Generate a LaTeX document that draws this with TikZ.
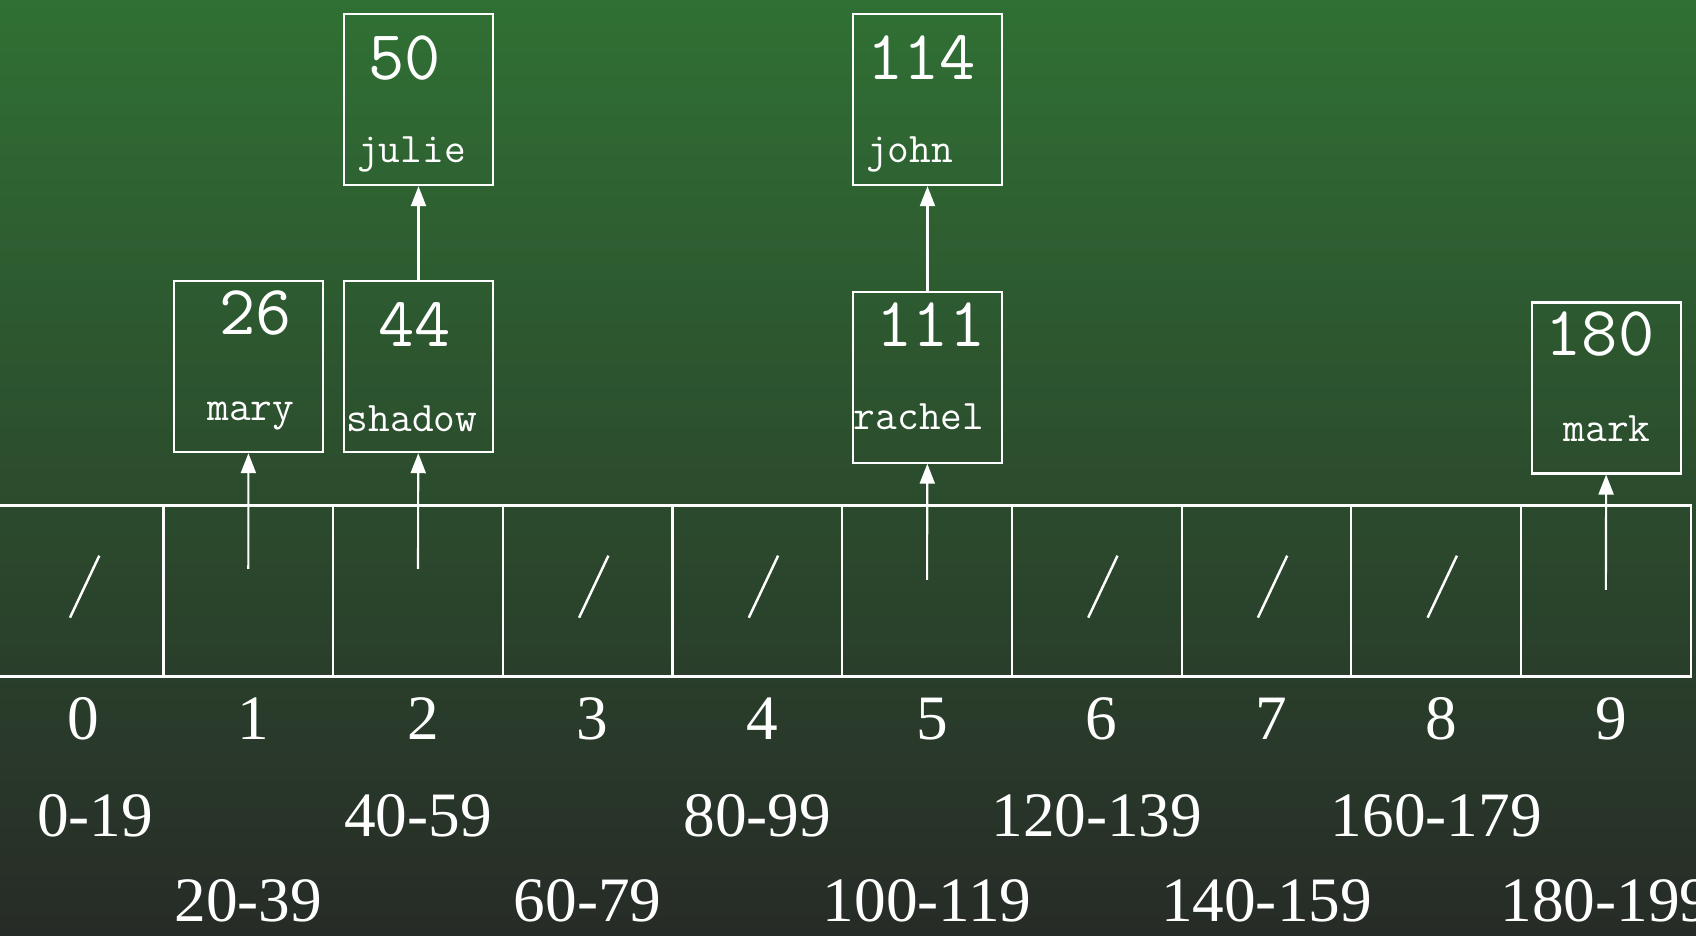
\documentclass[tikz,border=0pt]{standalone}
\usepackage{fontspec}
\setmainfont{Liberation Serif}
\usepackage{tikz}
\usetikzlibrary{positioning, calc, arrows.meta}
\definecolor{slidetop}{RGB}{48,112,52}
\definecolor{slidebot}{RGB}{39,43,39}

\begin{document}
\begin{tikzpicture}[line width=0.6pt, white,
    cell/.style={draw=white, rectangle, minimum width=1.697cm, minimum height=1.71cm, inner sep=0pt},
    rec/.style={draw=white, rectangle, minimum width=1.495cm, minimum height=1.71cm, inner sep=0pt},
    key/.style={font=\ttfamily\fontsize{20}{22}\selectfont, anchor=base, inner sep=0pt},
    who/.style={font=\ttfamily\fontsize{12}{14}\selectfont, anchor=base, inner sep=0pt},
    idx/.style={font=\fontsize{18}{20}\selectfont, anchor=base, inner sep=0pt},
    ptr/.style={-{Triangle[length=2mm, width=1.5mm]}}]

    % Slide background
    \useasboundingbox (0,0) rectangle (16.96,9.36);
    \shade[top color=slidetop, bottom color=slidebot] (0,0) rectangle (16.96,9.36);

    % Bucket array, index and key range under each slot
    \foreach \i/\rng/\dy/\dx in {0/0-19/0.99/0.164, 1/20-39/0.14/0, 2/40-59/0.99/0,
                                 3/60-79/0.14/0, 4/80-99/0.99/0, 5/100-119/0.14/0,
                                 6/120-139/0.99/0, 7/140-159/0.14/0, 8/160-179/0.99/0,
                                 9/180-199/0.14/0} {
        \node[cell] (c\i) at ({0.786+1.697*\i},3.45) {};
        \node[idx] (n\i) at ({0.836+1.697*\i},1.96) {\i};
        \node[idx] (r\i) at ({0.786+1.697*\i+\dx},\dy) {\rng};
    }

    % Empty slots are marked with a slash
    \foreach \i in {0,3,4,6,7,8}
        \draw[line width=0.7pt] ($(c\i.center)+(-0.086,-0.267)$) -- ($(c\i.center)+(0.207,0.353)$);

    % Records hanging off bucket 1
    \node[rec] (mary) at (2.485,5.693) {};
    \node[key] (k26) at (2.555,6.01) {26};
    \node[who] (nmary) at (2.51,5.15) {mary};

    % Records hanging off bucket 2
    \node[rec] (shadow) at (4.185,5.693) {};
    \node[key] (k44) at (4.15,5.89) {44};
    \node[who] (nshadow) at (4.12,5.04) {shadow};
    \node[rec] (julie) at (4.185,8.363) {};
    \node[key] (k50) at (4.045,8.56) {50};
    \node[who] (njulie) at (4.115,7.73) {julie};

    % Records hanging off bucket 5
    \node[rec] (rachel) at (9.275,5.588) {};
    \node[key] (k111) at (9.31,5.89) {111};
    \node[who] (nrachel) at (9.19,5.06) {rachel};
    \node[rec] (john) at (9.275,8.363) {};
    \node[key] (k114) at (9.215,8.56) {114};
    \node[who] (njohn) at (9.097,7.73) {john};

    % Record hanging off bucket 9
    \node[rec] (mark) at (16.063,5.48) {};
    \node[key] (k180) at (16.0,5.80) {180};
    \node[who] (nmark) at (16.07,4.943) {mark};

    % Pointers from the buckets and along the chains
    \coordinate (p1) at ($(c1.center)+(0,0.22)$);
    \coordinate (p2) at ($(c2.center)+(0,0.22)$);
    \coordinate (p5) at ($(c5.center)+(0,0.11)$);
    \coordinate (p9) at ($(c9.center)+(0,0.01)$);
    \draw[ptr] (p1) -- (mary);
    \draw[ptr] (p2) -- (shadow);
    \draw[ptr] (p5) -- (rachel);
    \draw[ptr] (p9) -- (mark);
    \draw[ptr] (shadow) -- (julie);
    \draw[ptr] (rachel) -- (john);

\end{tikzpicture}
\end{document}
